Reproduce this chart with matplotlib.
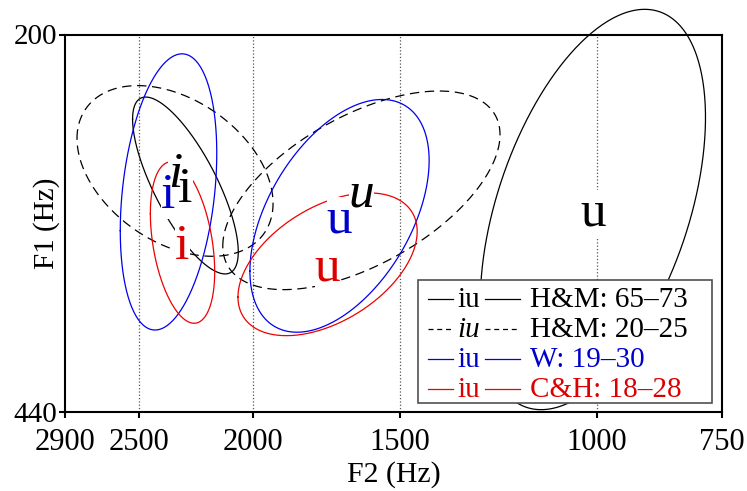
import numpy as np
import matplotlib
matplotlib.use("Agg")
import matplotlib.pyplot as plt
from matplotlib.patches import Rectangle

plt.rcParams['font.family'] = ['Liberation Serif', 'DejaVu Serif']

# Traunmueller bark scale
def bark(f):
    return 26.81 * np.asarray(f, dtype=float) / (1960 + np.asarray(f, dtype=float)) - 0.53


def hz(z):
    z = np.asarray(z, dtype=float)
    return 1960 * (z + 0.53) / (26.28 - z)


groups = ['H&M: 65–73', 'H&M: 20–25', 'W: 19–30', 'C&H: 18–28']
group_colors = ['black', 'black', '#0000cc', '#dd0000']
line_colors = ['black', 'black', '#0000ee', '#ee0000']
group_dashed = [False, True, False, False]
group_italic = [False, True, False, False]

# /i/ : means in Hz, half-ranges in bark, correlation (bark F2 vs bark F1)
f2_i = [2283, 2330, 2360, 2296]
f1_i = [290, 281, 294, 326]
f2_sd_i = [0.69, 1.28, 0.63, 0.42]
f1_sd_i = [0.57, 0.55, 0.89, 0.52]
rho_i = [-0.75, -0.38, 0.28, -0.36]

# /u/
f2_u = [1008, 1619, 1690, 1730]
f1_u = [305, 293, 309, 340]
f2_sd_u = [1.47, 1.81, 1.17, 1.17]
f1_sd_u = [1.29, 0.64, 0.75, 0.46]
rho_u = [0.46, 0.56, 0.475, 0.46]

x_ticks = [2900, 2500, 2000, 1500, 1000, 750]
y_ticks = [200, 440]
grid_x = [2500, 2000, 1500, 1000]


def ellipse(f2, f1, s2, s1, rho, n=400):
    t = np.linspace(0, 2 * np.pi, n)
    phi = np.arccos(rho)
    zx = bark(f2) + s2 * np.cos(t)
    zy = bark(f1) + s1 * np.cos(t + phi)
    return hz(zx), hz(zy)


fig = plt.figure(figsize=(7.47, 4.91), dpi=100)
ax = fig.add_axes([65 / 747, 1 - 412 / 491, 657 / 747, 377.5 / 491])
ax.set_xscale('function', functions=(bark, hz))
ax.set_yscale('function', functions=(bark, hz))
ax.set_xlim(2900, 750)
ax.set_ylim(440, 200)

for gx in grid_x:
    ax.axvline(gx, color='#555555', ls=':', lw=0.9, zorder=0.5)

for k in range(len(groups)):
    ls = (0, (7.5, 4.5)) if group_dashed[k] else '-'
    for f2, f1, s2, s1, r in [(f2_i[k], f1_i[k], f2_sd_i[k], f1_sd_i[k], rho_i[k]),
                              (f2_u[k], f1_u[k], f2_sd_u[k], f1_sd_u[k], rho_u[k])]:
        ex, ey = ellipse(f2, f1, s2, s1, r)
        ax.plot(ex, ey, color=line_colors[k], lw=0.9, ls=ls, zorder=2, clip_on=False)

# vowel labels: white backgrounds first, then glyphs on top
for k in range(len(groups)):
    style = 'italic' if group_italic[k] else 'normal'
    for f2, f1, v in [(f2_i[k], f1_i[k], 'i'), (f2_u[k], f1_u[k], 'u')]:
        ax.annotate(v, (f2, f1), xytext=(0, -3), textcoords='offset points',
                    fontsize=37, style=style, color='none', ha='center',
                    va='center', zorder=3,
                    bbox=dict(facecolor='white', edgecolor='none', pad=0))
        ax.annotate(v, (f2, f1), xytext=(0, -3), textcoords='offset points',
                    fontsize=37, style=style, color=group_colors[k],
                    ha='center', va='center', zorder=4)

ax.set_xticks(x_ticks)
ax.set_xticklabels([str(v) for v in x_ticks])
ax.set_yticks(y_ticks)
ax.set_yticklabels([str(v) for v in y_ticks])
ax.minorticks_off()
ax.tick_params(axis='x', direction='out', length=4.5, width=1.5, pad=7, labelsize=22)
ax.tick_params(axis='y', direction='out', length=4.5, width=1.5, pad=1, labelsize=21)
for sp in ax.spines.values():
    sp.set_linewidth(1.5)

ax.set_xlabel('F2 (Hz)', fontsize=21.5)
ax.set_ylabel('F1 (Hz)', fontsize=21)
ax.xaxis.set_label_coords(0.5, -0.13)
ax.yaxis.set_label_coords(-0.008, 0.5)

# legend box
ax.add_patch(Rectangle((0.5373, 0.0238), 0.4475, 0.3259, transform=ax.transAxes,
                       facecolor='white', edgecolor='#505050', lw=1.2, zorder=6,
                       clip_on=False))
base = [0.2789, 0.1995, 0.1184, 0.0389]
for k in range(len(groups)):
    ly = base[k] + 0.0212
    ls = (0, (4, 3)) if group_dashed[k] else '-'
    style = 'italic' if group_italic[k] else 'normal'
    ax.plot([0.5525, 0.5900], [ly, ly], transform=ax.transAxes, color=line_colors[k],
            lw=0.9, ls=ls, zorder=7, clip_on=False)
    ax.plot([0.6400, 0.6925], [ly, ly], transform=ax.transAxes, color=line_colors[k],
            lw=0.9, ls=ls, zorder=7, clip_on=False)
    ax.text(0.6149, base[k], 'iu', transform=ax.transAxes, fontsize=21, style=style,
            color=group_colors[k], ha='center', va='baseline', zorder=7)
    ax.text(0.7078, base[k], groups[k], transform=ax.transAxes, fontsize=21,
            color=group_colors[k], ha='left', va='baseline', zorder=7)

fig.savefig('out.png', dpi=100)
